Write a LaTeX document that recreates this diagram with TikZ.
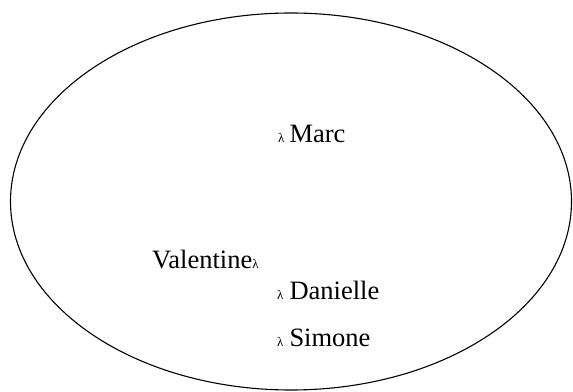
\documentclass[tikz,border=0pt]{standalone}
\usepackage{fontspec}
\setmainfont{Liberation Serif}
\usetikzlibrary{shapes.geometric}
\tikzset{
  ens/.style = {ellipse, draw=black, line width=1.1pt, minimum width=561pt,
                minimum height=377pt, inner sep=0pt},
  elt/.style = {anchor=base west, inner sep=0pt, font=\fontsize{26.5}{30}\selectfont}
}
\newcommand{\lam}{{\fontsize{13}{13}\selectfont λ}}

\begin{document}
\begin{tikzpicture}[x=1pt, y=1pt]
    \useasboundingbox (0,0) rectangle (573,391);
    \node[ens] (ens) at (291,189.5) {};
    \node[elt] (marc) at (278,248) {\lam\hspace{5pt}Marc};
    \node[elt] (valentine) at (152,122) {Valentine\lam};
    \node[elt] (danielle) at (277,91) {\lam\hspace{6pt}Danielle};
    \node[elt] (simone) at (277,44) {\lam\hspace{6pt}Simone};
\end{tikzpicture}
\end{document}
